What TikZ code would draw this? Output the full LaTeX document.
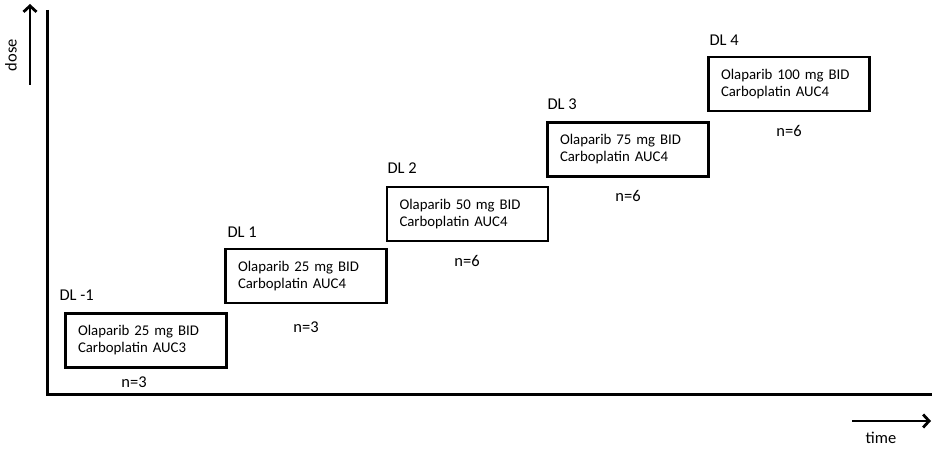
\documentclass[tikz,border=0pt]{standalone}
\usepackage{fontspec}
\setmainfont{Carlito}
\usetikzlibrary{arrows.meta}

\begin{document}
\begin{tikzpicture}[x=1pt,y=-1pt,
    dosebox/.style={draw, line width=2.4pt, minimum width=161pt, minimum height=54pt,
        text width=136pt, align=left, inner sep=0pt,
        font=\fontsize{14.8}{17}\selectfont},
    lvl/.style={anchor=base west, font=\fontsize{16.5}{19}\selectfont},
    cnt/.style={anchor=base, font=\fontsize{16.5}{19}\selectfont}]
                \useasboundingbox (0,0) rectangle (932,449);
                % axes
                \coordinate (O) at (47,394);
                \coordinate (Ytop) at (47,10);
                \coordinate (Xend) at (932,394);
                \draw[line width=3pt] (Ytop) -- (O) -- (Xend);
                % dose arrow
                \coordinate (Da) at (30,85);
                \coordinate (Db) at (30,4);
                \draw[line width=2.8pt, -{Straight Barb[length=6pt,width=13pt]}] (Da) -- (Db);
                \node[rotate=90, font=\fontsize{16.5}{19}\selectfont] (dose) at (11,55) {dose};
                % time arrow
                \coordinate (Ta) at (852,421);
                \coordinate (Tb) at (931,421);
                \draw[line width=2.8pt, -{Straight Barb[length=6pt,width=13pt]}] (Ta) -- (Tb);
                \node[font=\fontsize{16.5}{19}\selectfont] (time) at (881,438) {time};
                % dose levels
                \node[dosebox] (B0) at (146,340.5) {Olaparib 25 mg BID\\Carboplatin AUC3};
                \node[dosebox] (B1) at (306,276) {Olaparib 25 mg BID\\Carboplatin AUC4};
                \node[dosebox] (B2) at (467.5,214) {Olaparib 50 mg BID\\Carboplatin AUC4};
                \node[dosebox] (B3) at (628,149.5) {Olaparib 75 mg BID\\Carboplatin AUC4};
                \node[dosebox] (B4) at (789,84) {Olaparib 100 mg BID\\Carboplatin AUC4};
                \node[lvl] (L0) at (56,300) {DL -1};
                \node[lvl] (L1) at (224,238) {DL 1};
                \node[lvl] (L2) at (384,174) {DL 2};
                \node[lvl] (L3) at (544,110) {DL 3};
                \node[lvl] (L4) at (706,46) {DL 4};
                \node[cnt] (N0) at (134,387) {n=3};
                \node[cnt] (N1) at (306,332) {n=3};
                \node[cnt] (N2) at (467,267) {n=6};
                \node[cnt] (N3) at (628,202) {n=6};
                \node[cnt] (N4) at (789,137) {n=6};
            \end{tikzpicture}
\end{document}
